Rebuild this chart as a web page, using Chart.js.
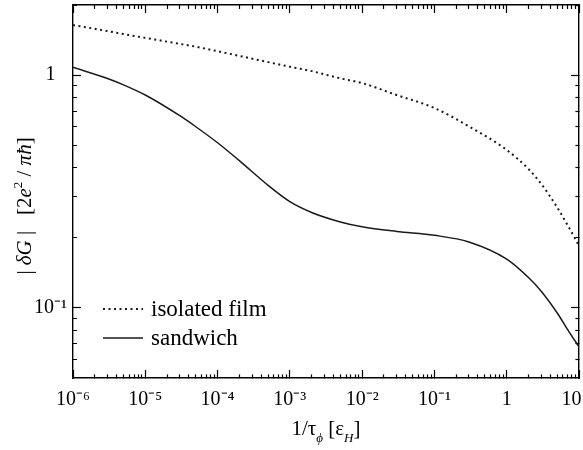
<!DOCTYPE html>
<html>
<head>
<meta charset="utf-8">
<script src="https://cdn.jsdelivr.net/npm/chart.js@4.4.1/dist/chart.umd.min.js"></script>
<style>
  body { margin: 0; background: #fff; }
  #wrap { width: 583px; height: 450px; position: relative; }
</style>
</head>
<body>
<div id="wrap"><canvas id="dgChart"></canvas></div>
<script>
// 1/tau_phi in units of eps_H
const xVals = [1e-6, 3e-6, 5e-6, 1e-5, 3e-5, 5e-5, 1e-4, 2e-4, 5e-4, 1e-3, 2e-3, 5e-3, 1e-2, 3e-2, 1e-1, 0.3, 1, 2, 3, 5, 7, 10];
// |dG| in units of 2e^2/(pi h)
const isolatedFilm = [1.64, 1.545, 1.50, 1.445, 1.362, 1.324, 1.266, 1.209, 1.137, 1.086, 1.040, 0.968, 0.924, 0.821, 0.722, 0.602, 0.477, 0.395, 0.341, 0.270, 0.226, 0.185];
const sandwich = [1.08, 0.967, 0.908, 0.821, 0.669, 0.600, 0.512, 0.429, 0.336, 0.286, 0.257, 0.234, 0.223, 0.213, 0.205, 0.192, 0.162, 0.135, 0.118, 0.0951, 0.0805, 0.068];

const seriesNames = ['isolated film', 'sandwich'];

// axis ticks
const xMajorTicks = [1e-6, 1e-5, 1e-4, 1e-3, 1e-2, 1e-1, 1, 10];
const xTickLabels = ['10⁻⁶', '10⁻⁵', '10⁻⁴', '10⁻³', '10⁻²', '10⁻¹', '1', '10'];
const minorSteps = [2, 3, 4, 5, 6, 7, 8, 9];
const yMajorTicks = [0.1, 1];
const yTickLabels = ['10⁻¹', '1'];
const yMinorTicks = [0.06, 0.07, 0.08, 0.09, 0.2, 0.3, 0.4, 0.5, 0.6, 0.7, 0.8, 0.9, 2];

const X_MIN = 1e-6, X_MAX = 10, Y_MIN = 0.05, Y_MAX = 2;

const FONT = "'Liberation Serif', 'Times New Roman', serif";
Chart.defaults.font.family = FONT;
Chart.defaults.color = '#000';

function buildXTicks() {
    const out = xMajorTicks.map(v => ({ value: v, major: true }));
    xMajorTicks.slice(0, -1).forEach(base => {
        minorSteps.forEach(k => out.push({ value: k * base, major: false }));
    });
    return out.sort((a, b) => a.value - b.value);
}

function buildYTicks() {
    const out = yMajorTicks.map(v => ({ value: v, major: true }))
        .concat(yMinorTicks.map(v => ({ value: v, major: false })));
    return out.sort((a, b) => a.value - b.value);
}

function labelFor(value, majors, labels) {
    const i = majors.findIndex(m => Math.abs(value / m - 1) < 1e-6);
    return i < 0 ? '' : labels[i];
}

// inward tick marks (negative length): majors long and solid, minors cut short by a dash.
// left/top axes draw the tick from its inner end, bottom/right from the border,
// so the short dash has to sit at the other end of the pattern for them.
function tickGrid(startsInside) {
    const minorDash = startsInside ? [0, 4, 4, 40] : [4, 40];
    return {
        drawOnChartArea: false,
        drawTicks: true,
        tickLength: -8,
        tickWidth: 1.2,
        tickColor: '#000',
        tickBorderDash: (c) => (c.tick && c.tick.major) ? [] : minorDash
    };
}
const axisBorder = { display: true, color: '#000', width: 1.4 };

function fixSize(prop, size) {
    return (s) => {
        s[prop] = size;
        s.paddingLeft = s.paddingRight = s.paddingTop = s.paddingBottom = 0;
    };
}

function toPoints(ys) {
    return xVals.map((x, i) => ({ x: x, y: ys[i] }));
}

// rich text runs (sub/superscripts) for the axis titles
const xTitleRuns = [
    { t: '1/τ', s: 21 },
    { t: 'ϕ', s: 13, it: true, dy: 7 },
    { t: ' [ε', s: 21 },
    { t: 'H', s: 13, it: true, dy: 7 },
    { t: ']', s: 21 }
];
const yTitleRuns = [
    { t: '| ', s: 21 },
    { t: 'δG', s: 21, it: true },
    { t: ' |   [2', s: 21 },
    { t: 'e', s: 21, it: true },
    { t: '2', s: 13, dy: -9 },
    { t: ' / ', s: 21 },
    { t: 'πħ', s: 21, it: true },
    { t: ']', s: 21 }
];

function runFont(r) {
    return (r.it ? 'italic ' : '') + r.s + 'px ' + FONT;
}

function drawRuns(ctx, runs, cx, baseY) {
    let total = 0;
    runs.forEach(r => { ctx.font = runFont(r); total += ctx.measureText(r.t).width; });
    let x = cx - total / 2;
    runs.forEach(r => {
        ctx.font = runFont(r);
        ctx.fillText(r.t, x, baseY + (r.dy || 0));
        x += ctx.measureText(r.t).width;
    });
}

const titlesAndLegend = {
    id: 'titlesAndLegend',
    afterDraw(chart) {
        const ctx = chart.ctx;
        const area = chart.chartArea;
        ctx.save();
        ctx.fillStyle = '#000';
        ctx.textAlign = 'left';
        ctx.textBaseline = 'alphabetic';
        drawRuns(ctx, xTitleRuns, (area.left + area.right) / 2, 435);

        ctx.save();
        ctx.translate(31, 206);
        ctx.rotate(-Math.PI / 2);
        drawRuns(ctx, yTitleRuns, 0, 0);
        ctx.restore();

        // legend in lower-left corner of the plot
        const rows = [309, 338];
        chart.data.datasets.forEach((ds, i) => {
            const y = rows[i];
            ctx.beginPath();
            ctx.strokeStyle = ds.borderColor;
            ctx.lineWidth = ds.borderWidth;
            ctx.setLineDash(ds.borderDash || []);
            ctx.moveTo(area.left + 30, y);
            ctx.lineTo(area.left + 70, y);
            ctx.stroke();
            ctx.setLineDash([]);
            ctx.font = '23px ' + FONT;
            ctx.fillText(ds.label, area.left + 78, y + 7);
        });
        ctx.restore();
    }
};

new Chart(document.getElementById('dgChart').getContext('2d'), {
    type: 'line',
    data: {
        datasets: [
            {
                label: seriesNames[0],
                data: toPoints(isolatedFilm),
                borderColor: '#1a1a1a',
                borderWidth: 2,
                borderDash: [2, 3.5],
                pointRadius: 0,
                cubicInterpolationMode: 'monotone',
                fill: false
            },
            {
                label: seriesNames[1],
                data: toPoints(sandwich),
                borderColor: '#1a1a1a',
                borderWidth: 1.5,
                pointRadius: 0,
                cubicInterpolationMode: 'monotone',
                fill: false
            }
        ]
    },
    options: {
        responsive: true,
        maintainAspectRatio: false,
        animation: false,
        layout: { padding: 0 },
        plugins: {
            legend: { display: false },
            tooltip: { enabled: false }
        },
        scales: {
            x: {
                type: 'logarithmic',
                position: 'bottom',
                min: X_MIN, max: X_MAX,
                afterBuildTicks: (s) => { s.ticks = buildXTicks(); },
                afterFit: fixSize('height', 72),
                grid: tickGrid(false),
                border: axisBorder,
                ticks: {
                    autoSkip: false,
                    minRotation: 0, maxRotation: 0,
                    padding: 18,
                    font: { size: 20 },
                    callback: (v) => {
                        const lab = labelFor(v, xMajorTicks, xTickLabels);
                        // last label sits at the right edge: pad it so it stays inside
                        return v === X_MAX ? lab + '   ' : lab;
                    }
                }
            },
            x2: {
                type: 'logarithmic',
                position: 'top',
                min: X_MIN, max: X_MAX,
                afterBuildTicks: (s) => { s.ticks = buildXTicks(); },
                afterFit: fixSize('height', 5),
                grid: tickGrid(true),
                border: axisBorder,
                ticks: { display: false, autoSkip: false }
            },
            y: {
                type: 'logarithmic',
                position: 'left',
                min: Y_MIN, max: Y_MAX,
                afterBuildTicks: (s) => { s.ticks = buildYTicks(); },
                afterFit: fixSize('width', 73),
                grid: tickGrid(true),
                border: axisBorder,
                ticks: {
                    autoSkip: false,
                    crossAlign: 'center',
                    padding: 14,
                    font: { size: 20 },
                    callback: (v) => labelFor(v, yMajorTicks, yTickLabels)
                }
            },
            y2: {
                type: 'logarithmic',
                position: 'right',
                min: Y_MIN, max: Y_MAX,
                afterBuildTicks: (s) => { s.ticks = buildYTicks(); },
                afterFit: fixSize('width', 4),
                grid: tickGrid(false),
                border: axisBorder,
                ticks: { display: false, autoSkip: false }
            }
        }
    },
    plugins: [titlesAndLegend]
});
</script>
</body>
</html>
